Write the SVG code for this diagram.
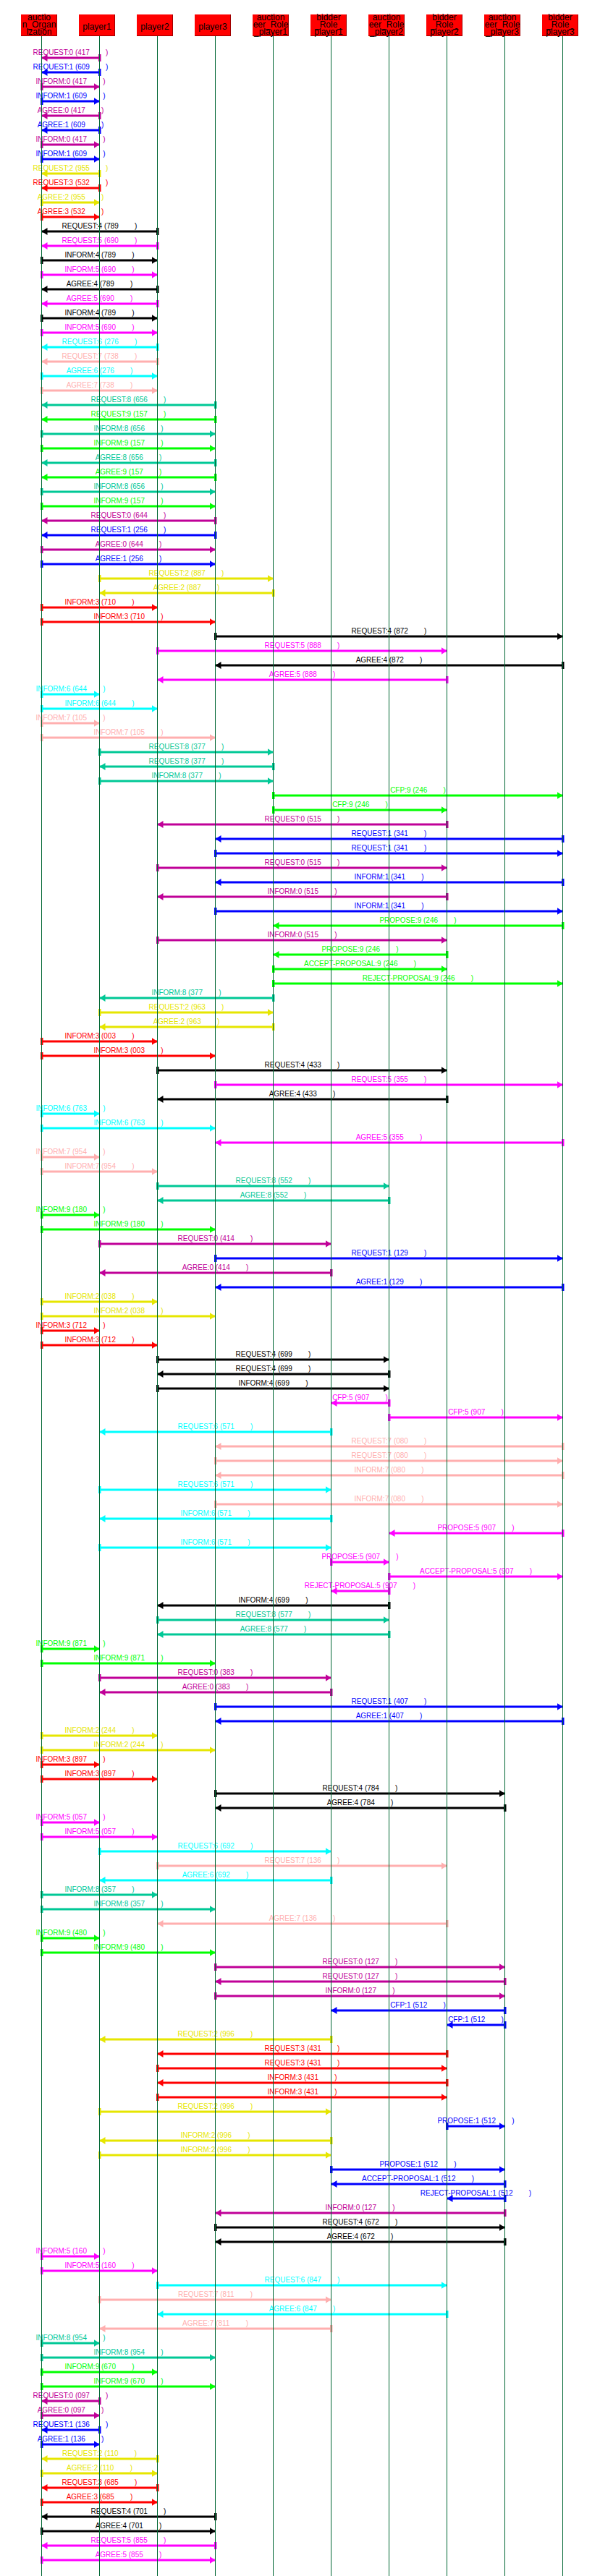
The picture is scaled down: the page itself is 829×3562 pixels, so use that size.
<svg xmlns="http://www.w3.org/2000/svg" width="829" height="3562" viewBox="0 0 829 3562">
<style>
.node rect{fill:#ff0000}
.node .sh{fill:none;stroke:#a00000;stroke-width:1}
.node text{font-family:"Liberation Sans",Arial,sans-serif;font-size:12px;fill:#000;text-anchor:middle}
.node .ll{fill:none;stroke:#006633;stroke-width:1}
#connectors path{fill:none;stroke-width:3}
#connectors text{font-family:"Liberation Sans",Arial,sans-serif;font-size:10px;text-anchor:middle;white-space:pre}
.c0 path{stroke:#c00098;marker-start:url(#t0);marker-end:url(#h0)}.c0 text{fill:#c00098}
.c1 path{stroke:#0000ff;marker-start:url(#t1);marker-end:url(#h1)}.c1 text{fill:#0000ff}
.c2 path{stroke:#e6e600;marker-start:url(#t2);marker-end:url(#h2)}.c2 text{fill:#e6e600}
.c3 path{stroke:#ff0000;marker-start:url(#t3);marker-end:url(#h3)}.c3 text{fill:#ff0000}
.c4 path{stroke:#000000;marker-start:url(#t4);marker-end:url(#h4)}.c4 text{fill:#000000}
.c5 path{stroke:#ff00ff;marker-start:url(#t5);marker-end:url(#h5)}.c5 text{fill:#ff00ff}
.c6 path{stroke:#00ffff;marker-start:url(#t6);marker-end:url(#h6)}.c6 text{fill:#00ffff}
.c7 path{stroke:#ffafaf;marker-start:url(#t7);marker-end:url(#h7)}.c7 text{fill:#ffafaf}
.c8 path{stroke:#00c896;marker-start:url(#t8);marker-end:url(#h8)}.c8 text{fill:#00c896}
.c9 path{stroke:#00ff00;marker-start:url(#t9);marker-end:url(#h9)}.c9 text{fill:#00ff00}
</style>
<defs>
<marker id="h0" viewBox="0 0 8 10" refX="8" refY="5" markerWidth="8" markerHeight="10" markerUnits="userSpaceOnUse" orient="auto"><path d="M0 0L8 5L0 10Z" fill="#c00098"/></marker>
<marker id="h1" viewBox="0 0 8 10" refX="8" refY="5" markerWidth="8" markerHeight="10" markerUnits="userSpaceOnUse" orient="auto"><path d="M0 0L8 5L0 10Z" fill="#0000ff"/></marker>
<marker id="h2" viewBox="0 0 8 10" refX="8" refY="5" markerWidth="8" markerHeight="10" markerUnits="userSpaceOnUse" orient="auto"><path d="M0 0L8 5L0 10Z" fill="#e6e600"/></marker>
<marker id="h3" viewBox="0 0 8 10" refX="8" refY="5" markerWidth="8" markerHeight="10" markerUnits="userSpaceOnUse" orient="auto"><path d="M0 0L8 5L0 10Z" fill="#ff0000"/></marker>
<marker id="h4" viewBox="0 0 8 10" refX="8" refY="5" markerWidth="8" markerHeight="10" markerUnits="userSpaceOnUse" orient="auto"><path d="M0 0L8 5L0 10Z" fill="#000000"/></marker>
<marker id="h5" viewBox="0 0 8 10" refX="8" refY="5" markerWidth="8" markerHeight="10" markerUnits="userSpaceOnUse" orient="auto"><path d="M0 0L8 5L0 10Z" fill="#ff00ff"/></marker>
<marker id="h6" viewBox="0 0 8 10" refX="8" refY="5" markerWidth="8" markerHeight="10" markerUnits="userSpaceOnUse" orient="auto"><path d="M0 0L8 5L0 10Z" fill="#00ffff"/></marker>
<marker id="h7" viewBox="0 0 8 10" refX="8" refY="5" markerWidth="8" markerHeight="10" markerUnits="userSpaceOnUse" orient="auto"><path d="M0 0L8 5L0 10Z" fill="#ffafaf"/></marker>
<marker id="h8" viewBox="0 0 8 10" refX="8" refY="5" markerWidth="8" markerHeight="10" markerUnits="userSpaceOnUse" orient="auto"><path d="M0 0L8 5L0 10Z" fill="#00c896"/></marker>
<marker id="h9" viewBox="0 0 8 10" refX="8" refY="5" markerWidth="8" markerHeight="10" markerUnits="userSpaceOnUse" orient="auto"><path d="M0 0L8 5L0 10Z" fill="#00ff00"/></marker>
<marker id="t0" viewBox="0 0 4 10" refX="2" refY="5" markerWidth="4" markerHeight="10" markerUnits="userSpaceOnUse" orient="auto"><rect width="4" height="10" fill="#c00098"/></marker>
<marker id="t1" viewBox="0 0 4 10" refX="2" refY="5" markerWidth="4" markerHeight="10" markerUnits="userSpaceOnUse" orient="auto"><rect width="4" height="10" fill="#0000ff"/></marker>
<marker id="t2" viewBox="0 0 4 10" refX="2" refY="5" markerWidth="4" markerHeight="10" markerUnits="userSpaceOnUse" orient="auto"><rect width="4" height="10" fill="#e6e600"/></marker>
<marker id="t3" viewBox="0 0 4 10" refX="2" refY="5" markerWidth="4" markerHeight="10" markerUnits="userSpaceOnUse" orient="auto"><rect width="4" height="10" fill="#ff0000"/></marker>
<marker id="t4" viewBox="0 0 4 10" refX="2" refY="5" markerWidth="4" markerHeight="10" markerUnits="userSpaceOnUse" orient="auto"><rect width="4" height="10" fill="#000000"/></marker>
<marker id="t5" viewBox="0 0 4 10" refX="2" refY="5" markerWidth="4" markerHeight="10" markerUnits="userSpaceOnUse" orient="auto"><rect width="4" height="10" fill="#ff00ff"/></marker>
<marker id="t6" viewBox="0 0 4 10" refX="2" refY="5" markerWidth="4" markerHeight="10" markerUnits="userSpaceOnUse" orient="auto"><rect width="4" height="10" fill="#00ffff"/></marker>
<marker id="t7" viewBox="0 0 4 10" refX="2" refY="5" markerWidth="4" markerHeight="10" markerUnits="userSpaceOnUse" orient="auto"><rect width="4" height="10" fill="#ffafaf"/></marker>
<marker id="t8" viewBox="0 0 4 10" refX="2" refY="5" markerWidth="4" markerHeight="10" markerUnits="userSpaceOnUse" orient="auto"><rect width="4" height="10" fill="#00c896"/></marker>
<marker id="t9" viewBox="0 0 4 10" refX="2" refY="5" markerWidth="4" markerHeight="10" markerUnits="userSpaceOnUse" orient="auto"><rect width="4" height="10" fill="#00ff00"/></marker>
</defs>
<rect width="829" height="3562" fill="#fff"/>
<g id="connectors" xml:space="preserve">
<g class="c0"><path d="M137.5 80H57.5"/><text x="97.5" y="76">REQUEST:0 (417        )</text></g>
<g class="c1"><path d="M137.5 100H57.5"/><text x="97.5" y="96">REQUEST:1 (609        )</text></g>
<g class="c0"><path d="M57.5 120H137.5"/><text x="97.5" y="116">INFORM:0 (417        )</text></g>
<g class="c1"><path d="M57.5 140H137.5"/><text x="97.5" y="136">INFORM:1 (609        )</text></g>
<g class="c0"><path d="M137.5 160H57.5"/><text x="97.5" y="156">AGREE:0 (417        )</text></g>
<g class="c1"><path d="M137.5 180H57.5"/><text x="97.5" y="176">AGREE:1 (609        )</text></g>
<g class="c0"><path d="M57.5 200H137.5"/><text x="97.5" y="196">INFORM:0 (417        )</text></g>
<g class="c1"><path d="M57.5 220H137.5"/><text x="97.5" y="216">INFORM:1 (609        )</text></g>
<g class="c2"><path d="M137.5 240H57.5"/><text x="97.5" y="236">REQUEST:2 (955        )</text></g>
<g class="c3"><path d="M137.5 260H57.5"/><text x="97.5" y="256">REQUEST:3 (532        )</text></g>
<g class="c2"><path d="M57.5 280H137.5"/><text x="97.5" y="276">AGREE:2 (955        )</text></g>
<g class="c3"><path d="M57.5 300H137.5"/><text x="97.5" y="296">AGREE:3 (532        )</text></g>
<g class="c4"><path d="M217.5 320H57.5"/><text x="137.5" y="316">REQUEST:4 (789        )</text></g>
<g class="c5"><path d="M217.5 340H57.5"/><text x="137.5" y="336">REQUEST:5 (690        )</text></g>
<g class="c4"><path d="M57.5 360H217.5"/><text x="137.5" y="356">INFORM:4 (789        )</text></g>
<g class="c5"><path d="M57.5 380H217.5"/><text x="137.5" y="376">INFORM:5 (690        )</text></g>
<g class="c4"><path d="M217.5 400H57.5"/><text x="137.5" y="396">AGREE:4 (789        )</text></g>
<g class="c5"><path d="M217.5 420H57.5"/><text x="137.5" y="416">AGREE:5 (690        )</text></g>
<g class="c4"><path d="M57.5 440H217.5"/><text x="137.5" y="436">INFORM:4 (789        )</text></g>
<g class="c5"><path d="M57.5 460H217.5"/><text x="137.5" y="456">INFORM:5 (690        )</text></g>
<g class="c6"><path d="M217.5 480H57.5"/><text x="137.5" y="476">REQUEST:6 (276        )</text></g>
<g class="c7"><path d="M217.5 500H57.5"/><text x="137.5" y="496">REQUEST:7 (738        )</text></g>
<g class="c6"><path d="M57.5 520H217.5"/><text x="137.5" y="516">AGREE:6 (276        )</text></g>
<g class="c7"><path d="M57.5 540H217.5"/><text x="137.5" y="536">AGREE:7 (738        )</text></g>
<g class="c8"><path d="M297.5 560H57.5"/><text x="177.5" y="556">REQUEST:8 (656        )</text></g>
<g class="c9"><path d="M297.5 580H57.5"/><text x="177.5" y="576">REQUEST:9 (157        )</text></g>
<g class="c8"><path d="M57.5 600H297.5"/><text x="177.5" y="596">INFORM:8 (656        )</text></g>
<g class="c9"><path d="M57.5 620H297.5"/><text x="177.5" y="616">INFORM:9 (157        )</text></g>
<g class="c8"><path d="M297.5 640H57.5"/><text x="177.5" y="636">AGREE:8 (656        )</text></g>
<g class="c9"><path d="M297.5 660H57.5"/><text x="177.5" y="656">AGREE:9 (157        )</text></g>
<g class="c8"><path d="M57.5 680H297.5"/><text x="177.5" y="676">INFORM:8 (656        )</text></g>
<g class="c9"><path d="M57.5 700H297.5"/><text x="177.5" y="696">INFORM:9 (157        )</text></g>
<g class="c0"><path d="M297.5 720H57.5"/><text x="177.5" y="716">REQUEST:0 (644        )</text></g>
<g class="c1"><path d="M297.5 740H57.5"/><text x="177.5" y="736">REQUEST:1 (256        )</text></g>
<g class="c0"><path d="M57.5 760H297.5"/><text x="177.5" y="756">AGREE:0 (644        )</text></g>
<g class="c1"><path d="M57.5 780H297.5"/><text x="177.5" y="776">AGREE:1 (256        )</text></g>
<g class="c2"><path d="M137.5 800H377.5"/><text x="257.5" y="796">REQUEST:2 (887        )</text></g>
<g class="c2"><path d="M377.5 820H137.5"/><text x="257.5" y="816">AGREE:2 (887        )</text></g>
<g class="c3"><path d="M57.5 840H217.5"/><text x="137.5" y="836">INFORM:3 (710        )</text></g>
<g class="c3"><path d="M57.5 860H297.5"/><text x="177.5" y="856">INFORM:3 (710        )</text></g>
<g class="c4"><path d="M297.5 880H777.5"/><text x="537.5" y="876">REQUEST:4 (872        )</text></g>
<g class="c5"><path d="M217.5 900H617.5"/><text x="417.5" y="896">REQUEST:5 (888        )</text></g>
<g class="c4"><path d="M777.5 920H297.5"/><text x="537.5" y="916">AGREE:4 (872        )</text></g>
<g class="c5"><path d="M617.5 940H217.5"/><text x="417.5" y="936">AGREE:5 (888        )</text></g>
<g class="c6"><path d="M57.5 960H137.5"/><text x="97.5" y="956">INFORM:6 (644        )</text></g>
<g class="c6"><path d="M57.5 980H217.5"/><text x="137.5" y="976">INFORM:6 (644        )</text></g>
<g class="c7"><path d="M57.5 1000H137.5"/><text x="97.5" y="996">INFORM:7 (105        )</text></g>
<g class="c7"><path d="M57.5 1020H297.5"/><text x="177.5" y="1016">INFORM:7 (105        )</text></g>
<g class="c8"><path d="M137.5 1040H377.5"/><text x="257.5" y="1036">REQUEST:8 (377        )</text></g>
<g class="c8"><path d="M377.5 1060H137.5"/><text x="257.5" y="1056">REQUEST:8 (377        )</text></g>
<g class="c8"><path d="M137.5 1080H377.5"/><text x="257.5" y="1076">INFORM:8 (377        )</text></g>
<g class="c9"><path d="M377.5 1100H777.5"/><text x="577.5" y="1096">CFP:9 (246        )</text></g>
<g class="c9"><path d="M377.5 1120H617.5"/><text x="497.5" y="1116">CFP:9 (246        )</text></g>
<g class="c0"><path d="M617.5 1140H217.5"/><text x="417.5" y="1136">REQUEST:0 (515        )</text></g>
<g class="c1"><path d="M777.5 1160H297.5"/><text x="537.5" y="1156">REQUEST:1 (341        )</text></g>
<g class="c1"><path d="M297.5 1180H777.5"/><text x="537.5" y="1176">REQUEST:1 (341        )</text></g>
<g class="c0"><path d="M217.5 1200H617.5"/><text x="417.5" y="1196">REQUEST:0 (515        )</text></g>
<g class="c1"><path d="M777.5 1220H297.5"/><text x="537.5" y="1216">INFORM:1 (341        )</text></g>
<g class="c0"><path d="M617.5 1240H217.5"/><text x="417.5" y="1236">INFORM:0 (515        )</text></g>
<g class="c1"><path d="M297.5 1260H777.5"/><text x="537.5" y="1256">INFORM:1 (341        )</text></g>
<g class="c9"><path d="M777.5 1280H377.5"/><text x="577.5" y="1276">PROPOSE:9 (246        )</text></g>
<g class="c0"><path d="M217.5 1300H617.5"/><text x="417.5" y="1296">INFORM:0 (515        )</text></g>
<g class="c9"><path d="M617.5 1320H377.5"/><text x="497.5" y="1316">PROPOSE:9 (246        )</text></g>
<g class="c9"><path d="M377.5 1340H617.5"/><text x="497.5" y="1336">ACCEPT-PROPOSAL:9 (246        )</text></g>
<g class="c9"><path d="M377.5 1360H777.5"/><text x="577.5" y="1356">REJECT-PROPOSAL:9 (246        )</text></g>
<g class="c8"><path d="M377.5 1380H137.5"/><text x="257.5" y="1376">INFORM:8 (377        )</text></g>
<g class="c2"><path d="M137.5 1400H377.5"/><text x="257.5" y="1396">REQUEST:2 (963        )</text></g>
<g class="c2"><path d="M377.5 1420H137.5"/><text x="257.5" y="1416">AGREE:2 (963        )</text></g>
<g class="c3"><path d="M57.5 1440H217.5"/><text x="137.5" y="1436">INFORM:3 (003        )</text></g>
<g class="c3"><path d="M57.5 1460H297.5"/><text x="177.5" y="1456">INFORM:3 (003        )</text></g>
<g class="c4"><path d="M217.5 1480H617.5"/><text x="417.5" y="1476">REQUEST:4 (433        )</text></g>
<g class="c5"><path d="M297.5 1500H777.5"/><text x="537.5" y="1496">REQUEST:5 (355        )</text></g>
<g class="c4"><path d="M617.5 1520H217.5"/><text x="417.5" y="1516">AGREE:4 (433        )</text></g>
<g class="c6"><path d="M57.5 1540H137.5"/><text x="97.5" y="1536">INFORM:6 (763        )</text></g>
<g class="c6"><path d="M57.5 1560H297.5"/><text x="177.5" y="1556">INFORM:6 (763        )</text></g>
<g class="c5"><path d="M777.5 1580H297.5"/><text x="537.5" y="1576">AGREE:5 (355        )</text></g>
<g class="c7"><path d="M57.5 1600H137.5"/><text x="97.5" y="1596">INFORM:7 (954        )</text></g>
<g class="c7"><path d="M57.5 1620H217.5"/><text x="137.5" y="1616">INFORM:7 (954        )</text></g>
<g class="c8"><path d="M217.5 1640H537.5"/><text x="377.5" y="1636">REQUEST:8 (552        )</text></g>
<g class="c8"><path d="M537.5 1660H217.5"/><text x="377.5" y="1656">AGREE:8 (552        )</text></g>
<g class="c9"><path d="M57.5 1680H137.5"/><text x="97.5" y="1676">INFORM:9 (180        )</text></g>
<g class="c9"><path d="M57.5 1700H297.5"/><text x="177.5" y="1696">INFORM:9 (180        )</text></g>
<g class="c0"><path d="M137.5 1720H457.5"/><text x="297.5" y="1716">REQUEST:0 (414        )</text></g>
<g class="c1"><path d="M297.5 1740H777.5"/><text x="537.5" y="1736">REQUEST:1 (129        )</text></g>
<g class="c0"><path d="M457.5 1760H137.5"/><text x="297.5" y="1756">AGREE:0 (414        )</text></g>
<g class="c1"><path d="M777.5 1780H297.5"/><text x="537.5" y="1776">AGREE:1 (129        )</text></g>
<g class="c2"><path d="M57.5 1800H217.5"/><text x="137.5" y="1796">INFORM:2 (038        )</text></g>
<g class="c2"><path d="M57.5 1820H297.5"/><text x="177.5" y="1816">INFORM:2 (038        )</text></g>
<g class="c3"><path d="M57.5 1840H137.5"/><text x="97.5" y="1836">INFORM:3 (712        )</text></g>
<g class="c3"><path d="M57.5 1860H217.5"/><text x="137.5" y="1856">INFORM:3 (712        )</text></g>
<g class="c4"><path d="M217.5 1880H537.5"/><text x="377.5" y="1876">REQUEST:4 (699        )</text></g>
<g class="c4"><path d="M537.5 1900H217.5"/><text x="377.5" y="1896">REQUEST:4 (699        )</text></g>
<g class="c4"><path d="M217.5 1920H537.5"/><text x="377.5" y="1916">INFORM:4 (699        )</text></g>
<g class="c5"><path d="M537.5 1940H457.5"/><text x="497.5" y="1936">CFP:5 (907        )</text></g>
<g class="c5"><path d="M537.5 1960H777.5"/><text x="657.5" y="1956">CFP:5 (907        )</text></g>
<g class="c6"><path d="M457.5 1980H137.5"/><text x="297.5" y="1976">REQUEST:6 (571        )</text></g>
<g class="c7"><path d="M777.5 2000H297.5"/><text x="537.5" y="1996">REQUEST:7 (080        )</text></g>
<g class="c7"><path d="M297.5 2020H777.5"/><text x="537.5" y="2016">REQUEST:7 (080        )</text></g>
<g class="c7"><path d="M777.5 2040H297.5"/><text x="537.5" y="2036">INFORM:7 (080        )</text></g>
<g class="c6"><path d="M137.5 2060H457.5"/><text x="297.5" y="2056">REQUEST:6 (571        )</text></g>
<g class="c7"><path d="M297.5 2080H777.5"/><text x="537.5" y="2076">INFORM:7 (080        )</text></g>
<g class="c6"><path d="M457.5 2100H137.5"/><text x="297.5" y="2096">INFORM:6 (571        )</text></g>
<g class="c5"><path d="M777.5 2120H537.5"/><text x="657.5" y="2116">PROPOSE:5 (907        )</text></g>
<g class="c6"><path d="M137.5 2140H457.5"/><text x="297.5" y="2136">INFORM:6 (571        )</text></g>
<g class="c5"><path d="M457.5 2160H537.5"/><text x="497.5" y="2156">PROPOSE:5 (907        )</text></g>
<g class="c5"><path d="M537.5 2180H777.5"/><text x="657.5" y="2176">ACCEPT-PROPOSAL:5 (907        )</text></g>
<g class="c5"><path d="M537.5 2200H457.5"/><text x="497.5" y="2196">REJECT-PROPOSAL:5 (907        )</text></g>
<g class="c4"><path d="M537.5 2220H217.5"/><text x="377.5" y="2216">INFORM:4 (699        )</text></g>
<g class="c8"><path d="M217.5 2240H537.5"/><text x="377.5" y="2236">REQUEST:8 (577        )</text></g>
<g class="c8"><path d="M537.5 2260H217.5"/><text x="377.5" y="2256">AGREE:8 (577        )</text></g>
<g class="c9"><path d="M57.5 2280H137.5"/><text x="97.5" y="2276">INFORM:9 (871        )</text></g>
<g class="c9"><path d="M57.5 2300H297.5"/><text x="177.5" y="2296">INFORM:9 (871        )</text></g>
<g class="c0"><path d="M137.5 2320H457.5"/><text x="297.5" y="2316">REQUEST:0 (383        )</text></g>
<g class="c0"><path d="M457.5 2340H137.5"/><text x="297.5" y="2336">AGREE:0 (383        )</text></g>
<g class="c1"><path d="M297.5 2360H777.5"/><text x="537.5" y="2356">REQUEST:1 (407        )</text></g>
<g class="c1"><path d="M777.5 2380H297.5"/><text x="537.5" y="2376">AGREE:1 (407        )</text></g>
<g class="c2"><path d="M57.5 2400H217.5"/><text x="137.5" y="2396">INFORM:2 (244        )</text></g>
<g class="c2"><path d="M57.5 2420H297.5"/><text x="177.5" y="2416">INFORM:2 (244        )</text></g>
<g class="c3"><path d="M57.5 2440H137.5"/><text x="97.5" y="2436">INFORM:3 (897        )</text></g>
<g class="c3"><path d="M57.5 2460H217.5"/><text x="137.5" y="2456">INFORM:3 (897        )</text></g>
<g class="c4"><path d="M297.5 2480H697.5"/><text x="497.5" y="2476">REQUEST:4 (784        )</text></g>
<g class="c4"><path d="M697.5 2500H297.5"/><text x="497.5" y="2496">AGREE:4 (784        )</text></g>
<g class="c5"><path d="M57.5 2520H137.5"/><text x="97.5" y="2516">INFORM:5 (057        )</text></g>
<g class="c5"><path d="M57.5 2540H217.5"/><text x="137.5" y="2536">INFORM:5 (057        )</text></g>
<g class="c6"><path d="M137.5 2560H457.5"/><text x="297.5" y="2556">REQUEST:6 (692        )</text></g>
<g class="c7"><path d="M217.5 2580H617.5"/><text x="417.5" y="2576">REQUEST:7 (136        )</text></g>
<g class="c6"><path d="M457.5 2600H137.5"/><text x="297.5" y="2596">AGREE:6 (692        )</text></g>
<g class="c8"><path d="M57.5 2620H217.5"/><text x="137.5" y="2616">INFORM:8 (357        )</text></g>
<g class="c8"><path d="M57.5 2640H297.5"/><text x="177.5" y="2636">INFORM:8 (357        )</text></g>
<g class="c7"><path d="M617.5 2660H217.5"/><text x="417.5" y="2656">AGREE:7 (136        )</text></g>
<g class="c9"><path d="M57.5 2680H137.5"/><text x="97.5" y="2676">INFORM:9 (480        )</text></g>
<g class="c9"><path d="M57.5 2700H297.5"/><text x="177.5" y="2696">INFORM:9 (480        )</text></g>
<g class="c0"><path d="M297.5 2720H697.5"/><text x="497.5" y="2716">REQUEST:0 (127        )</text></g>
<g class="c0"><path d="M697.5 2740H297.5"/><text x="497.5" y="2736">REQUEST:0 (127        )</text></g>
<g class="c0"><path d="M297.5 2760H697.5"/><text x="497.5" y="2756">INFORM:0 (127        )</text></g>
<g class="c1"><path d="M697.5 2780H457.5"/><text x="577.5" y="2776">CFP:1 (512        )</text></g>
<g class="c1"><path d="M697.5 2800H617.5"/><text x="657.5" y="2796">CFP:1 (512        )</text></g>
<g class="c2"><path d="M457.5 2820H137.5"/><text x="297.5" y="2816">REQUEST:2 (996        )</text></g>
<g class="c3"><path d="M617.5 2840H217.5"/><text x="417.5" y="2836">REQUEST:3 (431        )</text></g>
<g class="c3"><path d="M217.5 2860H617.5"/><text x="417.5" y="2856">REQUEST:3 (431        )</text></g>
<g class="c3"><path d="M617.5 2880H217.5"/><text x="417.5" y="2876">INFORM:3 (431        )</text></g>
<g class="c3"><path d="M217.5 2900H617.5"/><text x="417.5" y="2896">INFORM:3 (431        )</text></g>
<g class="c2"><path d="M137.5 2920H457.5"/><text x="297.5" y="2916">REQUEST:2 (996        )</text></g>
<g class="c1"><path d="M617.5 2940H697.5"/><text x="657.5" y="2936">PROPOSE:1 (512        )</text></g>
<g class="c2"><path d="M457.5 2960H137.5"/><text x="297.5" y="2956">INFORM:2 (996        )</text></g>
<g class="c2"><path d="M137.5 2980H457.5"/><text x="297.5" y="2976">INFORM:2 (996        )</text></g>
<g class="c1"><path d="M457.5 3000H697.5"/><text x="577.5" y="2996">PROPOSE:1 (512        )</text></g>
<g class="c1"><path d="M697.5 3020H457.5"/><text x="577.5" y="3016">ACCEPT-PROPOSAL:1 (512        )</text></g>
<g class="c1"><path d="M697.5 3040H617.5"/><text x="657.5" y="3036">REJECT-PROPOSAL:1 (512        )</text></g>
<g class="c0"><path d="M697.5 3060H297.5"/><text x="497.5" y="3056">INFORM:0 (127        )</text></g>
<g class="c4"><path d="M297.5 3080H697.5"/><text x="497.5" y="3076">REQUEST:4 (672        )</text></g>
<g class="c4"><path d="M697.5 3100H297.5"/><text x="497.5" y="3096">AGREE:4 (672        )</text></g>
<g class="c5"><path d="M57.5 3120H137.5"/><text x="97.5" y="3116">INFORM:5 (160        )</text></g>
<g class="c5"><path d="M57.5 3140H217.5"/><text x="137.5" y="3136">INFORM:5 (160        )</text></g>
<g class="c6"><path d="M217.5 3160H617.5"/><text x="417.5" y="3156">REQUEST:6 (847        )</text></g>
<g class="c7"><path d="M137.5 3180H457.5"/><text x="297.5" y="3176">REQUEST:7 (811        )</text></g>
<g class="c6"><path d="M617.5 3200H217.5"/><text x="417.5" y="3196">AGREE:6 (847        )</text></g>
<g class="c7"><path d="M457.5 3220H137.5"/><text x="297.5" y="3216">AGREE:7 (811        )</text></g>
<g class="c8"><path d="M57.5 3240H137.5"/><text x="97.5" y="3236">INFORM:8 (954        )</text></g>
<g class="c8"><path d="M57.5 3260H297.5"/><text x="177.5" y="3256">INFORM:8 (954        )</text></g>
<g class="c9"><path d="M57.5 3280H217.5"/><text x="137.5" y="3276">INFORM:9 (670        )</text></g>
<g class="c9"><path d="M57.5 3300H297.5"/><text x="177.5" y="3296">INFORM:9 (670        )</text></g>
<g class="c0"><path d="M137.5 3320H57.5"/><text x="97.5" y="3316">REQUEST:0 (097        )</text></g>
<g class="c0"><path d="M57.5 3340H137.5"/><text x="97.5" y="3336">AGREE:0 (097        )</text></g>
<g class="c1"><path d="M137.5 3360H57.5"/><text x="97.5" y="3356">REQUEST:1 (136        )</text></g>
<g class="c1"><path d="M57.5 3380H137.5"/><text x="97.5" y="3376">AGREE:1 (136        )</text></g>
<g class="c2"><path d="M217.5 3400H57.5"/><text x="137.5" y="3396">REQUEST:2 (110        )</text></g>
<g class="c2"><path d="M57.5 3420H217.5"/><text x="137.5" y="3416">AGREE:2 (110        )</text></g>
<g class="c3"><path d="M217.5 3440H57.5"/><text x="137.5" y="3436">REQUEST:3 (685        )</text></g>
<g class="c3"><path d="M57.5 3460H217.5"/><text x="137.5" y="3456">AGREE:3 (685        )</text></g>
<g class="c4"><path d="M297.5 3480H57.5"/><text x="177.5" y="3476">REQUEST:4 (701        )</text></g>
<g class="c4"><path d="M57.5 3500H297.5"/><text x="177.5" y="3496">AGREE:4 (701        )</text></g>
<g class="c5"><path d="M297.5 3520H57.5"/><text x="177.5" y="3516">REQUEST:5 (855        )</text></g>
<g class="c5"><path d="M57.5 3540H297.5"/><text x="177.5" y="3536">AGREE:5 (855        )</text></g>
</g>
<g id="n0" class="node"><rect x="29" y="20" width="50" height="30"/><path class="sh" d="M29 49.5H79M78.5 20V50"/><text x="54" y="28">auctio</text><text x="54" y="38">n_Organ</text><text x="54" y="48">ization</text><path class="ll" d="M57.5 50V3562"/></g>
<g id="n1" class="node"><rect x="109" y="20" width="50" height="30"/><path class="sh" d="M109 49.5H159M158.5 20V50"/><text x="134" y="40.5">player1</text><path class="ll" d="M137.5 50V3562"/></g>
<g id="n2" class="node"><rect x="189" y="20" width="50" height="30"/><path class="sh" d="M189 49.5H239M238.5 20V50"/><text x="214" y="40.5">player2</text><path class="ll" d="M217.5 50V3562"/></g>
<g id="n3" class="node"><rect x="269" y="20" width="50" height="30"/><path class="sh" d="M269 49.5H319M318.5 20V50"/><text x="294" y="40.5">player3</text><path class="ll" d="M297.5 50V3562"/></g>
<g id="n4" class="node"><rect x="349" y="20" width="50" height="30"/><path class="sh" d="M349 49.5H399M398.5 20V50"/><text x="374" y="28">auction</text><text x="374" y="38">eer_Role</text><text x="374" y="48">_player1</text><path class="ll" d="M377.5 50V3562"/></g>
<g id="n5" class="node"><rect x="429" y="20" width="50" height="30"/><path class="sh" d="M429 49.5H479M478.5 20V50"/><text x="454" y="28">bidder</text><text x="454" y="38">_Role_</text><text x="454" y="48">player1</text><path class="ll" d="M457.5 50V3562"/></g>
<g id="n6" class="node"><rect x="509" y="20" width="50" height="30"/><path class="sh" d="M509 49.5H559M558.5 20V50"/><text x="534" y="28">auction</text><text x="534" y="38">eer_Role</text><text x="534" y="48">_player2</text><path class="ll" d="M537.5 50V3562"/></g>
<g id="n7" class="node"><rect x="589" y="20" width="50" height="30"/><path class="sh" d="M589 49.5H639M638.5 20V50"/><text x="614" y="28">bidder</text><text x="614" y="38">_Role_</text><text x="614" y="48">player2</text><path class="ll" d="M617.5 50V3562"/></g>
<g id="n8" class="node"><rect x="669" y="20" width="50" height="30"/><path class="sh" d="M669 49.5H719M718.5 20V50"/><text x="694" y="28">auction</text><text x="694" y="38">eer_Role</text><text x="694" y="48">_player3</text><path class="ll" d="M697.5 50V3562"/></g>
<g id="n9" class="node"><rect x="749" y="20" width="50" height="30"/><path class="sh" d="M749 49.5H799M798.5 20V50"/><text x="774" y="28">bidder</text><text x="774" y="38">_Role_</text><text x="774" y="48">player3</text><path class="ll" d="M777.5 50V3562"/></g>
</svg>
